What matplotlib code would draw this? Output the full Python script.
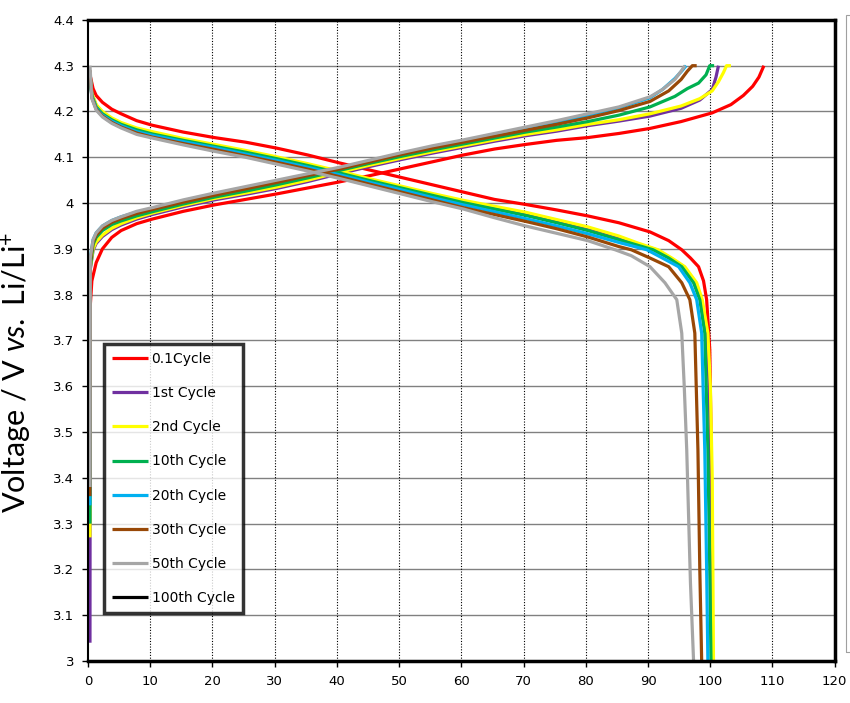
import matplotlib.pyplot as plt
from matplotlib.patches import Rectangle
from matplotlib.transforms import offset_copy

plt.rcParams['mathtext.fontset'] = 'custom'
plt.rcParams['mathtext.rm'] = 'Lato'
plt.rcParams['mathtext.it'] = 'Lato:italic'

# capacity / mAh g-1 and voltage / V
labels = ['0.1Cycle', '1st Cycle', '2nd Cycle', '10th Cycle', '20th Cycle',
          '30th Cycle', '50th Cycle', '100th Cycle']
colors = ['#FF0000', '#7030A0', '#FFFF00', '#00B050', '#00B0F0',
          '#984807', '#A6A6A6', '#000000']

# common capacity grid for the charge branches (tails differ)
q_chg = [0, 0.05, 0.5, 1, 2, 3.5, 5, 7.5, 10, 15, 20, 25, 30, 35, 40, 45,
         50, 55, 60, 65, 70, 75, 80, 85, 90]
# common capacity grid for the discharge branches
q_dis = [0, 0.3, 1, 2, 3.5, 5, 7.5, 10, 15, 20, 25, 30, 35, 40, 45, 50, 55,
         60, 65, 70, 75, 80]

# 0.1 cycle
c01_chg_q = [0, 0.02, 0.3, 1, 2, 3.5, 5, 7.5, 10, 15, 20, 25, 30, 35, 40, 45, 50,
             55, 60, 65, 70, 75, 80, 85, 90, 95, 100, 103, 105, 106.5, 107.5, 108.3]
c01_chg_v = [3.36, 3.77, 3.83, 3.87, 3.9, 3.925, 3.94, 3.955, 3.965, 3.982, 3.996,
             4.008, 4.02, 4.033, 4.046, 4.06, 4.075, 4.09, 4.105, 4.118, 4.128,
             4.137, 4.143, 4.152, 4.163, 4.178, 4.197, 4.215, 4.235, 4.255,
             4.275, 4.3]
c01_dis_q = [0, 0.5, 1, 2, 3.5, 5, 7.5, 10, 15, 20, 25, 30, 35, 40, 45, 50,
             55, 60, 65, 70, 75, 80, 85, 90, 93, 95.1, 96.5, 97.8, 98.6, 99.1,
             99.6, 99.8, 99.9, 100]
c01_dis_v = [4.28, 4.25, 4.235, 4.22, 4.205, 4.195, 4.18, 4.17, 4.155, 4.143,
             4.133, 4.12, 4.105, 4.088, 4.072, 4.056, 4.04, 4.024, 4.008, 3.997,
             3.985, 3.972, 3.957, 3.937, 3.918, 3.898, 3.88, 3.861, 3.83, 3.789,
             3.68, 3.5, 3.2, 3.0]

# 1st cycle
c1_chg_v = [3.04, 3.855, 3.897, 3.912, 3.927, 3.942, 3.952, 3.965, 3.975,
            3.992, 4.007, 4.019, 4.032, 4.047, 4.064, 4.08, 4.095, 4.109, 4.122,
            4.135, 4.147, 4.157, 4.169, 4.179, 4.19]
c1_tail_q = [95, 98, 100, 100.6, 101]
c1_tail_v = [4.207, 4.225, 4.248, 4.275, 4.3]
c1_dis_v = [4.28, 4.238, 4.213, 4.198, 4.184, 4.174, 4.162, 4.154, 4.139,
            4.126, 4.113, 4.099, 4.084, 4.068, 4.051, 4.035, 4.019, 4.004,
            3.991, 3.978, 3.962, 3.946]
c1_dtail_q = [85, 88, 91, 93.3, 95.4, 97.3, 98.2, 99.1, 99.5, 99.8, 99.9, 100]
c1_dtail_v = [3.926, 3.911, 3.898, 3.88, 3.861, 3.826, 3.789, 3.716, 3.6, 3.4,
              3.2, 3.0]

# 2nd cycle
c2_chg_v = [3.27, 3.86, 3.9, 3.915, 3.93, 3.945, 3.955, 3.968, 3.978, 3.995,
            4.01, 4.022, 4.035, 4.05, 4.067, 4.083, 4.098, 4.112, 4.125, 4.138,
            4.15, 4.16, 4.172, 4.182, 4.195]
c2_tail_q = [95, 98, 100, 101, 101.8, 102.3, 103]
c2_tail_v = [4.212, 4.228, 4.245, 4.265, 4.285, 4.3, 4.3]
c2_dis_v = [4.28, 4.24, 4.215, 4.2, 4.186, 4.176, 4.164, 4.156, 4.141, 4.128,
            4.115, 4.101, 4.086, 4.07, 4.053, 4.037, 4.021, 4.006, 3.993, 3.98,
            3.964, 3.948]
c2_dtail_q = [85, 88, 91.3, 93.5, 95.6, 97.5, 98.4, 99.3, 99.7, 100, 100.1, 100.2]
c2_dtail_v = [3.928, 3.913, 3.898, 3.88, 3.861, 3.826, 3.789, 3.716, 3.6, 3.4,
              3.2, 3.0]

# 10th cycle
c10_chg_v = [3.30, 3.86, 3.91, 3.925, 3.94, 3.953, 3.961, 3.972, 3.981, 3.998,
             4.013, 4.026, 4.04, 4.055, 4.071, 4.087, 4.102, 4.116, 4.129, 4.142,
             4.155, 4.166, 4.178, 4.192, 4.21]
c10_tail_q = [94, 96, 97.8, 99, 99.6, 100.3]
c10_tail_v = [4.233, 4.25, 4.262, 4.28, 4.3, 4.3]
c10_dis_v = [4.28, 4.235, 4.21, 4.195, 4.182, 4.172, 4.16, 4.151, 4.137, 4.124,
             4.111, 4.097, 4.082, 4.066, 4.049, 4.033, 4.017, 4.001, 3.987,
             3.973, 3.957, 3.94]
c10_dtail_q = [85, 90.5, 93, 95.1, 97, 98, 98.8, 99.3, 99.6, 99.8]
c10_dtail_v = [3.92, 3.898, 3.88, 3.861, 3.826, 3.789, 3.716, 3.461, 3.2, 3.0]

# 20th cycle
c20_chg_v = [3.34, 3.88, 3.92, 3.935, 3.95, 3.962, 3.97, 3.98, 3.988, 4.004,
             4.019, 4.033, 4.047, 4.061, 4.075, 4.091, 4.107, 4.122, 4.135,
             4.149, 4.162, 4.176, 4.192, 4.208, 4.23]
c20_tail_q = [92, 94, 95.2, 95.8]
c20_tail_v = [4.248, 4.272, 4.29, 4.3]
c20_dis_v = [4.28, 4.232, 4.207, 4.192, 4.179, 4.169, 4.156, 4.148, 4.134,
             4.121, 4.107, 4.093, 4.078, 4.062, 4.045, 4.029, 4.012, 3.996,
             3.981, 3.966, 3.95, 3.933]
c20_dtail_q = [85, 89.5, 92, 94.6, 96.4, 97.5, 98.3, 98.8, 99.1, 99.3]
c20_dtail_v = [3.914, 3.898, 3.88, 3.861, 3.826, 3.789, 3.716, 3.461, 3.2, 3.0]

# 30th cycle
c30_chg_v = [3.36, 3.87, 3.915, 3.93, 3.945, 3.958, 3.966, 3.977, 3.986,
             4.002, 4.017, 4.031, 4.045, 4.06, 4.074, 4.09, 4.106, 4.12, 4.133,
             4.146, 4.159, 4.172, 4.186, 4.202, 4.222]
c30_tail_q = [93, 95, 96, 96.8, 97.5]
c30_tail_v = [4.245, 4.27, 4.288, 4.3, 4.3]
c30_dis_v = [4.29, 4.23, 4.205, 4.19, 4.176, 4.166, 4.153, 4.144, 4.13, 4.117,
             4.103, 4.089, 4.074, 4.058, 4.041, 4.024, 4.007, 3.99, 3.975, 3.96,
             3.944, 3.926]
c30_dtail_q = [85, 87, 90, 93, 95.1, 96.4, 97.2, 97.7, 98, 98.3]
c30_dtail_v = [3.905, 3.898, 3.88, 3.861, 3.826, 3.789, 3.716, 3.461, 3.2, 3.0]

# 50th cycle
c50_chg_v = [3.38, 3.88, 3.92, 3.935, 3.95, 3.962, 3.97, 3.982, 3.99, 4.007,
             4.022, 4.036, 4.05, 4.064, 4.078, 4.094, 4.11, 4.125, 4.138, 4.152,
             4.166, 4.18, 4.195, 4.21, 4.232]
c50_tail_q = [92, 94, 95, 95.6]
c50_tail_v = [4.248, 4.27, 4.288, 4.3]
c50_dis_v = [4.30, 4.228, 4.203, 4.188, 4.174, 4.164, 4.15, 4.142, 4.127,
             4.113, 4.1, 4.085, 4.07, 4.054, 4.037, 4.02, 4.003, 3.987, 3.968,
             3.95, 3.934, 3.918]
c50_dtail_q = [84.4, 87, 90, 92.4, 94.3, 95.1, 95.5, 95.9, 96.5, 97]
c50_dtail_v = [3.898, 3.885, 3.861, 3.826, 3.789, 3.716, 3.6, 3.461, 3.17, 3.0]

charge = [
    (c01_chg_q, c01_chg_v),
    (q_chg + c1_tail_q, c1_chg_v + c1_tail_v),
    (q_chg + c2_tail_q, c2_chg_v + c2_tail_v),
    (q_chg + c10_tail_q, c10_chg_v + c10_tail_v),
    (q_chg + c20_tail_q, c20_chg_v + c20_tail_v),
    (q_chg + c30_tail_q, c30_chg_v + c30_tail_v),
    (q_chg + c50_tail_q, c50_chg_v + c50_tail_v),
    ([], []),
]
discharge = [
    (c01_dis_q, c01_dis_v),
    (q_dis + c1_dtail_q, c1_dis_v + c1_dtail_v),
    (q_dis + c2_dtail_q, c2_dis_v + c2_dtail_v),
    (q_dis + c10_dtail_q, c10_dis_v + c10_dtail_v),
    (q_dis + c20_dtail_q, c20_dis_v + c20_dtail_v),
    (q_dis + c30_dtail_q, c30_dis_v + c30_dtail_v),
    (q_dis + c50_dtail_q, c50_dis_v + c50_dtail_v),
    ([], []),
]

fig = plt.figure(figsize=(8.5, 7.03), dpi=100)
ax = fig.add_axes([0.1035, 0.0597, 0.8785, 0.912])

# lines sit just right of the left border, as in the original sheet
shifted = offset_copy(ax.transData, fig=fig, x=2, y=0, units='dots')
for lab, col, (qc, vc), (qd, vd) in zip(labels, colors, charge, discharge):
    ax.plot(qc, vc, color=col, lw=2.3, label=lab, solid_capstyle='butt',
            transform=shifted, clip_on=False)
    ax.plot(qd, vd, color=col, lw=2.3, solid_capstyle='butt',
            transform=shifted, clip_on=False)

ax.set_xlim(0, 120)
ax.set_ylim(3.0, 4.4)
ax.set_xticks(range(0, 121, 10))
ax.set_yticks([3.0 + 0.1 * i for i in range(15)])
ax.set_yticklabels(['3', '3.1', '3.2', '3.3', '3.4', '3.5', '3.6', '3.7', '3.8',
                    '3.9', '4', '4.1', '4.2', '4.3', '4.4'])

for y in [3.0 + 0.1 * i for i in range(1, 14)]:
    ax.axhline(y, color='#808080', lw=1.0, zorder=0)
for x in range(10, 120, 10):
    ax.axvline(x, color='black', lw=0.8, ls=(0, (1, 1.5)), zorder=0)

for s in ax.spines.values():
    s.set_linewidth(2.5)
ax.spines['left'].set_linewidth(1.5)
ax.tick_params(direction='out', length=4, width=1, labelsize=9.5,
               colors='black', pad=6)

ax.set_ylabel('Voltage / V $\\it{vs.}$ Li/Li$^{+}$', fontsize=22,
              family='Lato')
ax.yaxis.set_label_coords(-0.074, 0.45)

leg = ax.legend(loc='upper left', bbox_to_anchor=(0.021, 0.495),
                fontsize=10, frameon=True, fancybox=False, edgecolor='black',
                labelspacing=1.45, handlelength=2.6, handletextpad=0.25,
                borderpad=0.6, borderaxespad=0)
leg.get_frame().set_linewidth(2.5)
leg.set_zorder(5)

# faint box at the right edge of the picture
fig.add_artist(Rectangle((846 / 850, 1 - 652 / 703), 0.05, 637 / 703,
                         transform=fig.transFigure, fill=False,
                         edgecolor='#A0A0A0', lw=0.8))

fig.savefig('out.png', dpi=100)
